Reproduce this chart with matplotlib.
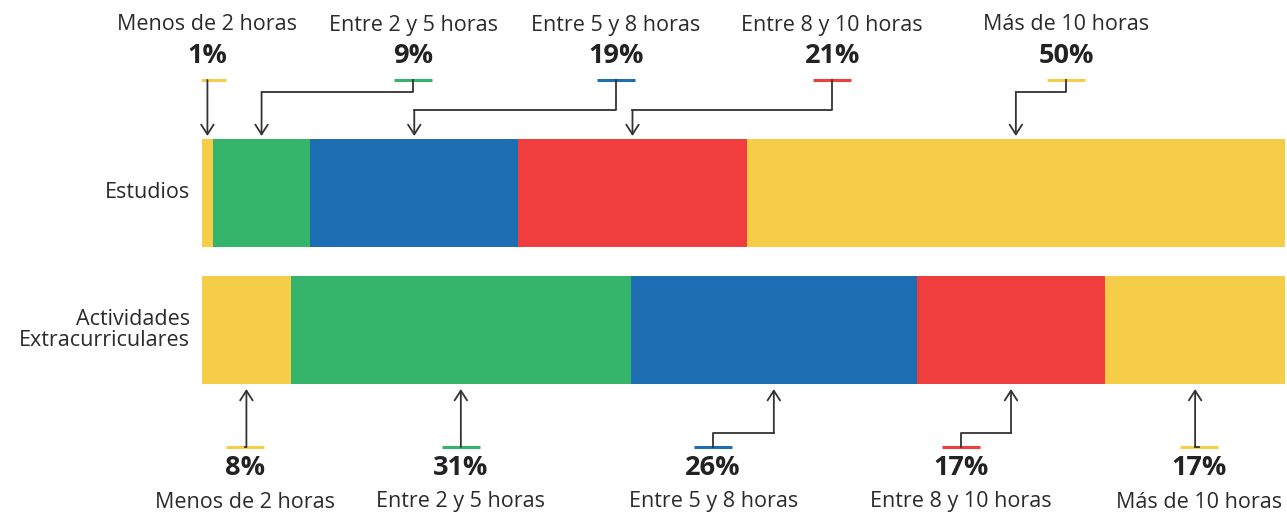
import matplotlib
matplotlib.use("Agg")
import matplotlib.pyplot as plt
import numpy as np

plt.rcParams['font.family'] = ['Open Sans', 'DejaVu Sans']

categories = ['Estudios', 'Actividades\nExtracurriculares']
ranges = ['Menos de 2 horas', 'Entre 2 y 5 horas', 'Entre 5 y 8 horas',
          'Entre 8 y 10 horas', 'Más de 10 horas']
estudios = [1.0, 9.0, 19.2, 21.1, 49.7]
extra = [8.2, 31.4, 26.4, 17.4, 16.6]
colors = ['#F6CD48', '#34B56B', '#1C6DB2', '#EF3E3D', '#F6CD48']

# where the labels sit (in % of bar length)
top_label_x = [0.46, 19.5, 38.2, 58.2, 79.8]
bot_label_x = [4.0, 23.9, 47.2, 70.1, 92.1]
top_elbow = [None, 92, 110, 110, 92]     # pixel rows of elbows
bot_elbow = [None, None, 433, 433, None]

W, H = 1287, 517
fig = plt.figure(figsize=(W / 100, H / 100), dpi=100)
ax = fig.add_axes([202 / W, 0, 1083 / W, 1])

rows = [np.array(estudios, float), np.array(extra, float)]
rows = [r / r.sum() * 100 for r in rows]
for i, r in enumerate(rows):
    left = np.concatenate([[0], np.cumsum(r)[:-1]])
    ax.barh(i, r, left=left, height=108 / 137, color=colors)

ax.set_xlim(0, 100)
ax.set_ylim(1 + (H - 330) / 137, -193 / 137)
ax.axis('off')


def py(p):
    # pixel row -> data y
    return (p - 193) / 137


for i, c in enumerate(categories):
    ax.text(-1.1, i, c, ha='right', va='center', fontsize=15.5, color='#2b2b2b',
            linespacing=1.0)

ink = '#333333'
dx_line = 1.75  # half length of coloured tick, in %

for row, vals, lab_x, elbows, top in [(0, estudios, top_label_x, top_elbow, True),
                                      (1, extra, bot_label_x, bot_elbow, False)]:
    r = rows[row]
    centers = np.cumsum(r) - r / 2
    for k in range(5):
        lx, cx = lab_x[k], centers[k]
        if top:
            y_line, y_tip, y_pct, y_name = py(80), py(136), py(56), py(25)
        else:
            y_line, y_tip, y_pct, y_name = py(447), py(389), py(468), py(502)
        ax.plot([lx - dx_line, lx + dx_line], [y_line, y_line], color=colors[k],
                lw=2.2, solid_capstyle='butt')
        if elbows[k] is None:
            pts = [(lx, y_line), (cx, y_line)]
        else:
            ye = py(elbows[k])
            pts = [(lx, y_line), (lx, ye), (cx, ye)]
        xs, ys = zip(*pts)
        ax.plot(xs, ys, color=ink, lw=1.3)
        ax.annotate('', xy=(cx, y_tip), xytext=(cx, ys[-1]),
                    arrowprops=dict(arrowstyle='->,head_length=0.7,head_width=0.45',
                                    color=ink, lw=1.3, shrinkA=0, shrinkB=0))
        ax.text(lx, y_pct, f'{vals[k]:.0f}%', ha='center', va='center', fontsize=19.5,
                fontweight='bold', color='#222222')
        ax.text(lx, y_name, ranges[k], ha='center', va='center', fontsize=15.5,
                color='#2b2b2b')

fig.savefig('out.png', dpi=100)
